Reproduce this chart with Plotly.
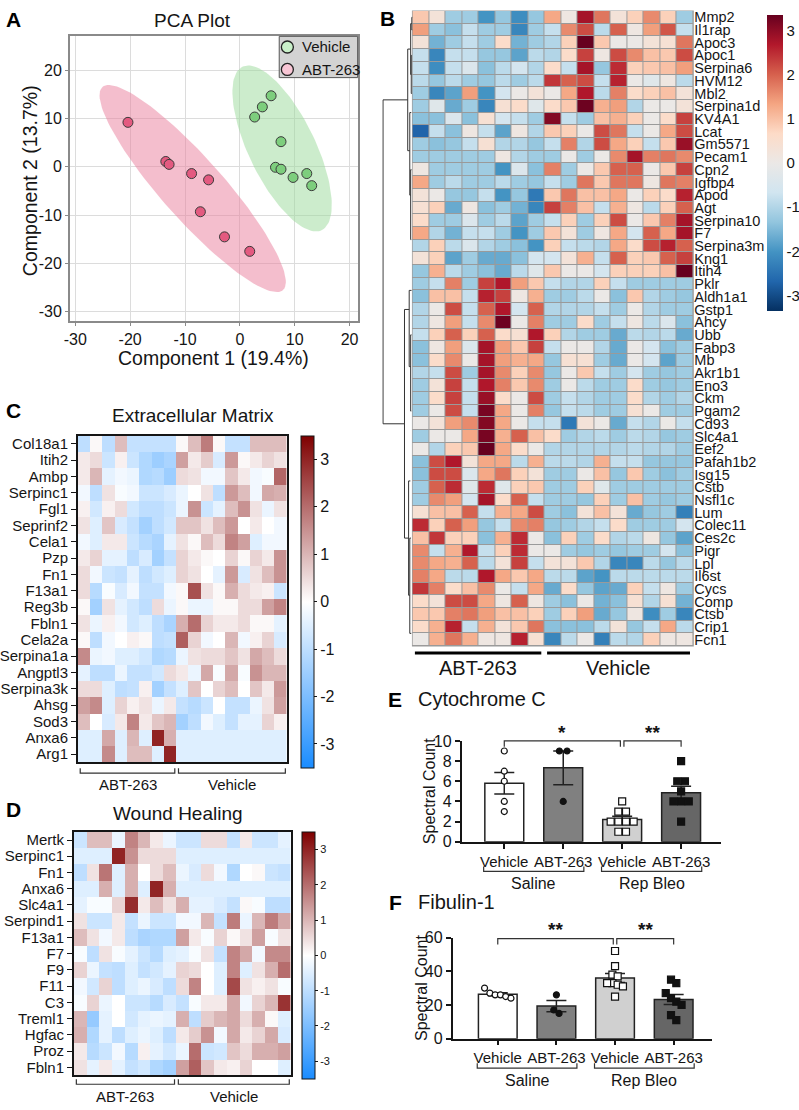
import numpy as np
import plotly.graph_objects as go

W, H = 799, 1110
FONT = "Liberation Sans, Arial, sans-serif"
INK = "#151515"

# ---------------- A: PCA scores ----------------
pca_groups = ["Vehicle", "ABT-263"]
veh_pc1 = [2.7, 4.1, 5.7, 7.5, 6.5, 7.5, 9.7, 12.2, 13.1]
veh_pc2 = [10.3, 12.4, 14.7, 5.2, -0.1, -0.5, -2.2, -1.4, -3.9]
abt_pc1 = [-20.4, -13.5, -12.9, -8.8, -5.7, -7.2, -2.8, 1.8]
abt_pc2 = [9.2, 1.1, 0.5, -1.4, -2.7, -9.3, -14.5, -17.5]
# confidence ellipses: centre x, centre y, half-major, half-minor, angle (deg)
veh_ellipse = [7.7, 3.8, 18.4, 6.2, -67.6]
abt_ellipse = [-8.6, -4.5, 26.7, 5.9, -52.3]
pca_ticks = [-30, -20, -10, 0, 10, 20]

# ---------------- B: clustered heatmap (z-scores) ----------------
b_genes = ["Mmp2", "Il1rap", "Apoc3", "Apoc1", "Serpina6", "HVM12", "Mbl2", "Serpina1d",
           "KV4A1", "Lcat", "Gm5571", "Pecam1", "Cpn2", "Igfbp4", "Apod", "Agt", "Serpina10",
           "F7", "Serpina3m", "Kng1", "Itih4", "Pklr", "Aldh1a1", "Gstp1", "Ahcy", "Ubb",
           "Fabp3", "Mb", "Akr1b1", "Eno3", "Ckm", "Pgam2", "Cd93", "Slc4a1", "Eef2",
           "Pafah1b2", "Isg15", "Cstb", "Nsfl1c", "Lum", "Colec11", "Ces2c", "Pigr", "Lpl",
           "Il6st", "Cycs", "Comp", "Ctsb", "Crip1", "Fcn1"]
b_values = [
    [0.9, 0.3, -1.2, -1.2, -2.0, -1.3, -2.1, -1.3, 1.3, 0.1, 2.8, 1.8, 0.3, 0.8, 1.6, 0.8, -1.2],
    [1.4, -1.2, -1.4, -0.8, -1.2, -1.2, -2.2, -1.2, -0.8, 1.6, 2.2, -0.9, 2.0, 0.1, 1.4, 2.1, -0.8],
    [0.3, -1.6, -1.2, -0.8, -1.2, 0.6, -1.6, -1.2, -1.0, 0.8, 3.4, 0.9, 0.0, 0.0, 0.3, 0.4, 1.8],
    [-0.8, -2.2, -0.8, -0.8, -1.3, -1.3, -1.8, -0.9, -1.0, 0.6, 2.3, 0.1, 2.2, 1.6, 1.0, 0.9, 2.2],
    [-0.8, -2.1, -0.8, -0.4, -1.4, -0.9, -0.6, -1.0, 0.6, -0.8, 2.8, -1.3, 2.5, 0.8, 0.9, 1.0, 1.4],
    [-0.9, -1.3, -0.9, -1.2, -1.3, -0.9, -1.2, -0.9, 2.4, 2.0, 2.2, -0.8, 2.6, 0.0, -0.3, 0.1, -0.9],
    [-1.2, -2.2, -1.8, 1.4, -2.0, -0.6, 0.0, 0.3, 0.0, 1.3, 2.7, -0.9, 1.7, 0.6, 0.8, 1.0, 0.3],
    [-1.2, -0.3, -1.7, -1.2, -2.2, 0.4, 0.6, -0.3, 0.6, 0.9, 3.3, 1.2, 1.4, -1.0, 0.0, 0.0, 0.3],
    [-1.4, -1.4, -0.4, -1.4, 0.4, -0.6, -0.8, -1.2, 3.1, -0.8, -1.2, 1.0, 1.2, 0.8, 0.0, 0.6, 2.3],
    [-2.7, -0.8, -1.4, 0.1, -0.8, -1.8, 0.1, -1.0, 0.9, 0.8, 0.0, 2.2, 1.8, -0.8, 0.0, 1.3, 2.2],
    [-1.2, -1.4, -1.3, -0.8, 0.4, -1.0, -1.0, -1.3, -0.8, 1.7, -1.0, 2.2, 1.3, 0.8, -0.8, 0.9, 2.9],
    [-1.2, -1.2, -1.2, -1.2, -1.2, 0.1, -1.0, -1.2, -1.2, 0.0, -1.2, 0.0, 1.6, 2.8, 1.7, 1.8, 1.6],
    [0.1, -1.2, -1.2, -1.2, -1.2, -2.0, -0.4, -1.4, 1.7, -1.2, 0.0, 0.9, 2.0, 2.0, 0.0, 0.9, 2.3],
    [1.3, -1.2, -0.9, -1.2, -1.2, -0.9, -1.2, -1.3, -0.8, -1.2, 1.8, 0.9, 1.8, 1.8, 0.1, 1.8, 1.7],
    [0.3, 0.0, -1.3, -1.3, -0.8, -2.0, -1.3, -2.4, 0.9, 1.8, 1.0, 1.0, 1.3, 0.0, 0.8, 0.6, 2.6],
    [0.4, 0.8, -1.7, 0.1, -1.4, -1.2, -1.6, -2.2, 2.3, 1.7, 1.0, -0.8, 1.2, 0.1, -0.9, 0.8, 2.0],
    [0.6, -1.2, -1.2, -0.4, -1.2, -0.9, -1.8, -1.2, -0.8, 0.8, -1.2, 0.8, 2.2, 0.0, 0.9, 1.7, 2.8],
    [1.3, -1.0, -1.6, -0.8, -0.8, -1.2, -2.0, -1.2, 0.9, 0.3, -1.2, 0.1, 1.3, -0.6, 2.0, 1.3, 2.8],
    [-1.0, 0.8, -0.9, -0.4, -1.0, -1.2, -1.4, -2.0, 0.8, -0.8, -0.9, -1.0, 1.3, 0.6, 2.2, 2.6, 2.0],
    [0.3, 0.8, -1.8, -1.2, -1.7, -1.7, -1.4, -0.6, -0.6, 0.3, 1.2, -0.8, 2.0, 0.8, 0.9, 2.0, 2.3],
    [-1.3, 1.2, -0.9, -1.2, -1.4, -1.7, -0.9, -0.3, 0.9, 0.0, 0.0, -0.6, 0.8, 0.8, 0.8, 1.0, 3.4],
    [-1.2, -0.8, 1.7, -1.2, 2.3, 2.7, 1.4, 0.9, -0.8, -1.0, -1.0, 0.8, -0.8, -1.2, -1.2, -1.2, -1.2],
    [-1.4, 1.0, 1.0, -0.8, 2.6, 2.3, 0.1, 1.2, -1.2, -1.2, -0.9, 0.0, -1.4, 0.9, -1.0, -1.2, -1.3],
    [-1.0, 0.0, 2.2, -0.8, 2.0, 2.7, -0.6, 2.0, -1.0, -1.0, -1.0, -0.8, -1.2, 0.0, -1.0, -1.2, -1.2],
    [-1.0, 0.1, 1.4, -0.8, 1.6, 3.3, 0.0, 1.7, -1.2, -1.2, 0.6, -1.2, -0.8, 0.1, -0.9, -0.4, -1.4],
    [-0.8, 0.8, 2.0, 0.8, 2.0, 0.6, 0.4, 2.7, 0.8, -1.0, -1.2, -1.2, -1.7, -0.9, -1.0, -0.9, -1.7],
    [-1.4, 0.1, 1.4, -0.4, 2.8, 1.4, 0.9, 2.3, -0.8, 0.0, 0.0, -1.0, -1.7, 0.0, -0.6, -1.4, -1.2],
    [-1.4, 0.6, 1.6, 0.0, 2.8, 1.4, 1.2, 1.3, -1.3, 0.4, 0.4, -1.2, -1.7, 0.0, -0.6, -1.8, -1.2],
    [-1.0, -0.8, 2.2, -1.2, 2.8, 1.6, 0.8, 1.6, -1.3, 0.0, 0.9, -0.8, -1.2, -0.6, -1.2, -1.3, -1.2],
    [-1.2, 0.3, 2.3, -0.8, 2.7, 1.7, 0.9, 1.6, -1.2, 0.0, -0.9, -1.2, -1.2, 0.6, -1.2, -1.3, -1.2],
    [-1.2, 0.6, 2.3, -0.8, 2.9, 0.6, 0.0, 2.2, -1.2, -0.8, -1.0, -1.2, -1.2, 0.6, -1.0, -1.2, -1.0],
    [-1.2, 0.0, 2.2, -0.8, 3.2, 1.3, 0.0, 1.7, -1.3, -0.8, -0.9, -1.2, -1.2, 0.4, 0.0, -1.2, -1.2],
    [0.0, 0.3, 1.4, 1.6, 3.1, 1.3, 0.0, -0.8, -0.8, -2.4, 0.3, 0.0, -1.7, -0.8, -1.0, 0.0, -0.8],
    [-1.2, 0.0, 0.0, 1.3, 3.2, 1.2, 2.0, 1.0, 0.6, -1.2, -1.0, -0.9, -1.2, -0.9, -1.0, -1.3, -1.2],
    [0.0, -1.0, 0.8, 0.9, 3.4, 1.3, 0.6, 0.0, -1.0, -1.0, -1.0, -1.0, -1.0, -0.9, -1.0, -1.0, -1.2],
    [-1.4, 2.2, 2.7, 0.3, 1.3, 1.3, -0.9, 1.2, -0.9, -0.9, -1.0, 1.2, -0.8, -0.8, -1.3, -1.3, -1.3],
    [-1.4, 2.2, 2.2, -0.4, 1.3, 1.8, 0.8, 0.3, -1.2, -1.2, 0.0, 1.0, -1.3, 0.9, -1.2, -1.4, -1.2],
    [-1.2, 2.0, 2.5, -0.3, 2.5, -0.3, 0.8, 0.9, -1.2, -1.2, 0.8, -0.3, -1.2, -1.2, -1.2, -1.2, -1.2],
    [-1.2, 1.6, 1.4, -0.6, 2.8, 0.6, 2.0, -0.8, -1.2, -1.2, -1.3, 0.8, -1.2, 1.0, -1.2, -1.3, -1.2],
    [0.4, 1.0, 1.0, 2.0, -0.8, 1.2, 1.3, 2.2, -1.2, -1.4, 0.3, 1.0, 0.3, -1.7, -1.3, -1.2, -2.3],
    [2.5, 0.8, 2.0, 1.4, -1.3, -0.8, 1.6, 1.7, -1.3, -1.2, -1.0, -0.8, 0.6, -1.2, -1.2, -1.2, -0.6],
    [1.0, 2.4, 0.8, 0.8, -1.4, 1.2, 2.5, 0.0, -1.4, 0.8, -1.2, 0.6, -1.0, -0.9, 0.1, -1.3, -1.8],
    [1.6, -0.8, 1.2, 2.7, -0.8, 0.8, 2.5, 0.0, 0.0, -1.2, -1.3, -1.2, -1.3, -1.2, -1.2, -0.6, -1.4],
    [1.6, 1.3, 1.2, 2.0, -0.9, 0.3, 2.3, -0.8, 0.3, 0.3, 0.9, -1.0, -2.2, -2.2, -0.9, -1.3, -0.9],
    [1.7, 1.3, -0.9, -0.9, 2.7, 1.3, 0.9, 1.3, -0.9, -0.9, -1.8, -2.0, -0.9, -0.9, -0.9, -0.9, -0.9],
    [2.4, 1.7, 0.6, 1.0, 1.6, 0.0, -0.8, 1.3, -1.7, 0.6, -1.3, -1.8, -1.7, 0.8, -0.8, 0.1, -1.2],
    [0.6, 0.3, 2.2, 2.2, 1.3, 0.1, 2.0, 0.1, -1.2, -1.4, 0.0, -1.6, -1.4, 0.4, -1.0, 0.4, -1.6],
    [0.9, 0.9, 1.7, 1.8, 1.4, 1.0, 1.0, 0.8, -1.2, 0.8, 1.4, -1.7, -1.3, 0.1, -2.1, -1.2, -2.2],
    [0.6, 1.2, 2.6, -0.8, 1.2, 0.3, 0.9, 1.8, -1.4, -1.4, -1.4, -0.9, 0.3, -1.3, -0.8, 1.3, -0.9],
    [0.0, 1.2, 1.8, 1.2, 0.1, 0.1, 2.6, 0.4, -2.2, -0.9, 0.0, -2.3, -0.9, -1.0, 0.8, 0.1, 0.1],
]
# sample groups (columns), shared by B, C and D
sample_groups = ["ABT-263"] * 8 + ["Vehicle"] * 9
# row dendrogram links: (row_a, row_b, height_a, height_b, merge_height)
dend_links = [
    (6.5, 32.0, 0.16, 0.27, 1.0),
    (2.5, 10.5, 0.06, 0.09, 0.16),
    (0.5, 4.5, 0.02, 0.04, 0.06),
    (0.0, 1.0, 0.0, 0.0, 0.02),
    (3.0, 6.0, 0.02, 0.02, 0.04),
    (7.5, 14.0, 0.04, 0.06, 0.09),
    (12.0, 17.5, 0.03, 0.04, 0.06),
    (23.0, 41.0, 0.11, 0.13, 0.27),
    (21.5, 27.5, 0.03, 0.06, 0.11),
    (25.0, 31.0, 0.03, 0.04, 0.06),
    (36.5, 45.5, 0.07, 0.09, 0.13),
    (41.0, 48.5, 0.05, 0.04, 0.09),
]

# ---------------- C: Extracellular Matrix ----------------
c_genes = ["Col18a1", "Itih2", "Ambp", "Serpinc1", "Fgl1", "Seprinf2", "Cela1", "Pzp", "Fn1",
           "F13a1", "Reg3b", "Fbln1", "Cela2a", "Serpina1a", "Angptl3", "Serpina3k", "Ahsg",
           "Sod3", "Anxa6", "Arg1"]
c_values = [
    [-1.0, 0.1, -1.0, 0.9, -0.9, -0.9, -0.9, -0.9, 0.1, 0.9, 1.8, 0.1, -0.9, -0.9, 0.9, 0.9, 0.9],
    [0.3, 0.5, -0.8, 0.2, -0.8, -1.2, -1.5, -1.3, 1.3, 0.3, 0.7, -0.6, 1.4, 0.1, 0.3, 0.6, 0.4],
    [0.3, 1.0, -0.4, -0.2, -0.3, -1.2, -1.1, -1.5, 0.5, 0.4, -0.2, -0.2, 0.8, 0.3, -0.2, -0.1, 2.1],
    [-0.2, -1.0, 0.4, -0.1, -0.2, -0.8, -0.8, -0.6, -0.3, 0.0, 0.4, -1.0, 1.4, 0.9, -0.2, 1.2, 1.1],
    [0.2, -0.7, 0.2, 0.5, -0.7, -1.0, -1.0, -0.8, -0.3, 1.5, -0.8, -0.4, 0.9, 1.5, 0.4, -0.3, 0.4],
    [0.4, -0.5, 0.8, -0.6, -0.9, -1.4, -1.0, -0.7, 0.8, 0.8, 0.4, 0.9, 1.4, 0.0, 0.3, 0.0, -0.2],
    [-0.2, -0.5, 0.3, 0.3, -0.8, -1.1, -1.3, -0.4, 0.4, 0.1, 0.9, 0.5, 1.7, 1.3, -0.5, -0.2, -0.2],
    [0.3, 0.6, -0.4, -0.4, -1.0, -0.6, -1.4, -0.9, 0.6, 0.3, 0.1, 0.0, 0.6, 0.1, 0.6, 0.3, 1.5],
    [0.5, -0.2, -0.8, -0.9, -0.4, -1.0, -0.7, -0.5, 0.6, 0.4, 0.0, -0.4, 1.4, -0.6, 0.4, 0.9, 1.5],
    [0.5, -1.1, -0.1, -0.6, -0.2, -0.9, -0.9, -0.2, 0.1, 2.4, 0.4, 0.1, 1.1, 0.5, 0.3, 0.2, -0.8],
    [0.1, -1.4, 0.4, -0.4, -0.7, -1.0, 0.5, -0.3, 0.1, -0.3, -0.3, 0.1, 0.1, 0.5, 0.5, 1.3, 1.7],
    [0.4, -0.3, 0.2, -0.2, -0.7, -0.5, -1.0, -1.3, 1.1, 2.0, 0.6, 0.3, 0.3, 0.5, 0.1, 0.1, -0.4],
    [0.1, -1.0, -0.2, 0.0, 0.2, 0.1, -1.0, -0.9, 2.2, 0.6, -0.2, 0.0, 1.0, -0.2, 0.2, 0.6, -0.6],
    [1.6, -0.3, -0.2, -0.5, -0.5, -0.7, -1.2, -1.1, -0.3, 0.4, 0.5, 0.5, 0.8, 0.4, 1.2, 0.9, 0.5],
    [-0.4, -1.0, -1.0, -0.3, -0.9, -0.9, -0.7, 0.5, 0.3, -0.3, 1.2, -0.1, 1.2, -0.1, 1.5, 1.0, 1.0],
    [0.5, 0.5, -0.5, -1.0, -0.9, 0.2, -1.4, -0.9, -0.5, 0.8, 0.0, 0.6, 0.9, 0.0, 0.8, 0.3, 1.4],
    [1.3, 1.6, -0.5, 0.6, 0.2, 0.4, -0.3, 0.3, -0.9, -1.1, -0.8, 0.0, -0.9, -0.9, -0.3, 0.4, 1.3],
    [0.9, 0.0, -0.6, 0.3, 1.7, 0.3, 0.8, 1.0, -1.4, -1.0, -0.2, -0.5, -0.9, -0.4, -0.4, 0.6, 0.2],
    [-0.5, -0.5, 1.2, -0.5, 1.0, -0.5, 3.0, 1.1, -0.5, -0.5, -0.5, -0.5, -0.5, -0.5, -0.5, -0.5, -0.5],
    [-0.5, -0.5, 1.6, -0.5, 0.9, 0.9, -0.5, 3.0, -0.5, -0.5, -0.5, -0.5, -0.5, -0.5, -0.5, -0.5, -0.5],
]

# ---------------- D: Wound Healing ----------------
d_genes = ["Mertk", "Serpinc1", "Fn1", "Anxa6", "Slc4a1", "Serpind1", "F13a1", "F7", "F9",
           "F11", "C3", "Treml1", "Hgfac", "Proz", "Fbln1"]
d_values = [
    [-0.8, 0.9, 0.9, -0.3, 1.7, 1.0, 0.3, -0.3, -0.8, -0.8, 0.5, 0.5, -0.9, 0.3, -0.8, -0.8, -0.4],
    [-0.5, -0.5, -0.5, 3.0, 1.5, 0.5, 0.5, 0.5, -0.5, -0.5, -0.5, -0.5, -0.5, -0.5, -0.5, -0.5, -0.5],
    [-1.0, 0.4, 1.9, -0.5, 1.1, 0.0, 0.5, 0.9, -0.3, -0.6, 0.5, -0.2, -1.2, 0.0, 0.1, -0.8, -0.9],
    [-0.5, -0.5, 1.1, -0.5, 1.1, -0.5, 3.0, 1.1, -0.5, -0.5, -0.5, -0.5, -0.5, -0.5, -0.5, -0.5, -0.5],
    [-0.4, -0.1, -0.1, 0.6, 2.9, 0.3, 0.9, 0.4, 1.1, -0.4, -0.4, -0.6, -0.9, 0.1, -0.1, -1.0, -1.0],
    [0.4, -0.8, -0.8, 0.3, -0.9, -0.3, -0.8, -0.8, -0.2, -0.2, 1.0, -0.9, 1.8, -0.3, 1.0, 1.8, 1.2],
    [0.9, 0.4, -0.2, 0.3, -1.0, -1.3, -1.2, -1.2, 1.3, 0.3, -0.1, 0.6, 0.1, 0.4, 1.3, -0.1, 0.4],
    [-0.1, -1.0, 0.4, -0.1, -0.4, -0.8, -1.1, -0.5, -0.4, -0.1, 0.4, -0.9, 1.7, 1.2, -0.2, 1.6, 1.6],
    [0.6, -0.3, -0.9, -1.0, -0.5, -0.9, -0.7, -0.4, 0.6, 0.5, 0.0, -0.5, 1.7, -0.5, 0.4, 1.1, 2.0],
    [-0.2, -0.7, 0.6, -1.0, -0.5, -0.3, -0.6, -1.0, 0.5, 1.7, 0.0, -0.5, 2.5, 0.4, 0.2, 0.4, -0.1],
    [-0.1, 0.6, -0.3, 0.0, -0.8, -0.8, -1.1, -0.6, -0.9, -0.1, 0.3, 0.3, 1.2, -0.2, 0.6, 1.0, 2.8],
    [1.0, -1.6, -0.4, 0.0, -0.7, -0.4, -0.3, -0.4, 1.1, -1.0, 0.7, 1.0, 1.2, 0.5, 1.1, 0.1, -0.5],
    [1.1, -1.2, -0.4, -1.0, -0.5, -0.3, -0.5, -1.0, 0.3, 0.7, 1.5, -0.2, 1.2, 0.3, 0.6, 1.2, -0.6],
    [0.3, -1.1, -0.8, -0.2, -1.1, 0.2, -0.4, -0.7, -0.3, 2.0, -0.8, -0.7, 0.8, 0.5, 1.1, 1.1, 1.3],
    [0.4, -0.4, 0.3, -0.4, -0.9, -0.7, -1.2, -1.4, 1.3, 2.2, 0.8, 0.3, 0.2, 0.6, 0.0, 0.0, -0.5],
]

# ---------------- E / F: spectral counts ----------------
bar_labels = ["Vehicle", "ABT-263", "Vehicle", "ABT-263"]
bar_cohorts = ["Saline", "Saline", "Rep Bleo", "Rep Bleo"]
bar_colors = ["#ffffff", "#808080", "#d0d0d0", "#666666"]
cyt_points = [[9, 7, 6, 4, 3], [9, 9, 4], [4, 3, 3, 2, 2, 2, 2, 1, 1], [8, 6, 6, 5, 4, 4, 4, 2]]
fib_points = [[30, 27, 26, 26, 25, 24], [26, 17, 15], [52, 43, 38, 37, 33, 33, 32, 31, 25],
              [35, 33, 27, 24, 22, 20, 14, 11]]
cyt_sig = [(0, 2, "*"), (2, 3, "**")]
fib_sig = [(0, 2, "**"), (2, 3, "**")]
cyt_ticks = [0, 2, 4, 6, 8, 10]
fib_ticks = [0, 20, 40, 60]

# ---------------- layout geometry (pixels) ----------------
box = {  # left, right, top, bottom
    "pca": (64.3, 355.0, 28.3, 318.3),
    "hb": (409.5, 692.5, 3.0, 648.0),
    "dend": (379.0, 409.5, 3.0, 648.0),
    "hc": (72.3, 282.7, 434.3, 766.0),
    "hd": (68.3, 286.7, 836.7, 1084.0),
    "e": (459.0, 720.0, 744.3, 846.8),
    "f": (450.0, 711.7, 944.0, 1046.7),
}
ranges = {
    "pca": ([-31.0, 21.6], [-32.0, 27.1]),
    "hb": ([-0.5, 16.5], [len(b_genes) - 0.5, -0.5]),
    "dend": ([1.03, 0.0], [len(b_genes) - 0.5, -0.5]),
    "hc": ([-0.5, 16.5], [len(c_genes) - 0.5, -0.5]),
    "hd": ([-0.5, 16.5], [len(d_genes) - 0.5, -0.5]),
    "e": ([-0.725, 3.67], [0, 10]),
    "f": ([-0.77, 3.66], [0, 60]),
}
axis_ids = {"pca": 1, "hb": 2, "dend": 3, "hc": 4, "hd": 5, "e": 6, "f": 7}


def px(x):
    return x / W


def py(y):
    return 1 - y / H


def ref(k, xy):
    i = axis_ids[k]
    return xy + ("" if i == 1 else str(i))


def mx(k, v):
    x0, x1, _, _ = box[k]
    r = ranges[k][0]
    return x0 + (v - r[0]) / (r[1] - r[0]) * (x1 - x0)


def my(k, v):
    _, _, y0, y1 = box[k]
    r = ranges[k][1]
    return y1 - (v - r[0]) / (r[1] - r[0]) * (y1 - y0)


def dash(v):
    return str(v).replace("\u2212", "-")


annotations = []
shapes = []


def text(x, y, s, size, anchor="center", angle=0, bold=False, color=INK):
    annotations.append(dict(
        x=px(x), y=py(y), xref="paper", yref="paper", text=f"<b>{s}</b>" if bold else s,
        showarrow=False, xanchor=anchor, yanchor="middle", textangle=angle,
        font=dict(size=size, family=FONT, color=color)))


def path(points, color=INK, width=1.5):
    d = "M " + " L ".join(f"{px(a):.5f},{py(b):.5f}" for a, b in points)
    shapes.append(dict(type="path", path=d, xref="paper", yref="paper",
                       line=dict(color=color, width=width)))


def ellipse(cx, cy, a, b, ang, n=120):
    t = np.linspace(0, 2 * np.pi, n)
    th = np.deg2rad(ang)
    ex = cx + a * np.cos(t) * np.cos(th) - b * np.sin(t) * np.sin(th)
    ey = cy + a * np.cos(t) * np.sin(th) + b * np.sin(t) * np.cos(th)
    return ex, ey


def swarm(vals, thresh, step):
    vals = list(vals)
    order = list(np.argsort(vals)[::-1])
    offs = np.zeros(len(vals))
    clusters, cur = [], [order[0]]
    for i in order[1:]:
        if vals[cur[-1]] - vals[i] < thresh:
            cur.append(i)
        else:
            clusters.append(cur)
            cur = [i]
    clusters.append(cur)
    for c in clusters:
        for j, i in enumerate(c):
            offs[i] = (j - (len(c) - 1) / 2) * step
    return offs


fig = go.Figure()

# ---------- A ----------
pca_sets = [(veh_pc1, veh_pc2, veh_ellipse, "rgba(153,217,153,0.5)", "#7dce7d", "#c9f0c9"),
            (abt_pc1, abt_pc2, abt_ellipse, "rgba(233,125,155,0.5)", "#e35a80", "#f8c6d5")]
for x, y, el, fill, _, _ in pca_sets:
    ex, ey = ellipse(*el)
    fig.add_trace(go.Scatter(x=ex, y=ey, mode="lines", fill="toself", fillcolor=fill,
                             line=dict(width=0), hoverinfo="skip", xaxis="x", yaxis="y"))
for x, y, _, _, col, _ in pca_sets:
    fig.add_trace(go.Scatter(x=x, y=y, mode="markers", xaxis="x", yaxis="y",
                             marker=dict(size=10, color=col, line=dict(color="#3a3a3a", width=1))))

# legend box
lx0, lx1, ly0, ly1 = 275.3, 354.3, 28.8, 70.7
shapes.append(dict(type="rect", xref="paper", yref="paper", x0=px(lx0), x1=px(lx1),
                   y0=py(ly1), y1=py(ly0), fillcolor="#d3d3d3", line=dict(color="#555", width=1)))
for i, (name, s) in enumerate(zip(pca_groups, pca_sets)):
    yy = 39.6 + i * 22.8
    shapes.append(dict(type="circle", xref="paper", yref="paper", xsizemode="pixel",
                       ysizemode="pixel", xanchor=px(283.5), yanchor=py(yy), x0=-6, x1=6,
                       y0=-6, y1=6, fillcolor=s[5], line=dict(color="#222", width=1.3)))
    text(296, yy, name, 15, anchor="left")

text(188, 13, "PCA Plot", 19)
text(209, 355, "Component 1 (19.4%)", 19.5)
text(25, 175, "Component 2 (13.7%)", 19.5, angle=-90)

# ---------- B ----------
rdbu = ["#053061", "#2166ac", "#4393c3", "#92c5de", "#d1e5f0", "#ebe8e6",
        "#fddbc7", "#f4a582", "#d6604d", "#b2182b", "#67001f"]
b_scale = [[i / 10, c] for i, c in enumerate(rdbu)]
x0, x1, y0, y1 = box["hb"]
shapes.append(dict(type="rect", xref="paper", yref="paper", x0=px(x0 - 0.5), x1=px(x1 + 0.5),
                   y0=py(y1 + 0.5), y1=py(y0 - 0.5), fillcolor="#9a9a9a", line=dict(width=0),
                   layer="below"))
fig.add_trace(go.Heatmap(
    z=b_values, x=list(range(17)), y=list(range(len(b_genes))), colorscale=b_scale,
    zmin=-3.35, zmax=3.35, xgap=1, ygap=1, xaxis="x2", yaxis="y2",
    colorbar=dict(x=px(767), xanchor="left", y=py(7), yanchor="top", len=296,
                  lenmode="pixels", thickness=16, thicknessmode="pixels", xpad=0, ypad=0,
                  outlinewidth=0, ticks="", tickvals=[-3, -2, -1, 0, 1, 2, 3],
                  ticktext=[dash(v) for v in [-3, -2, -1, 0, 1, 2, 3]],
                  tickfont=dict(size=15, family=FONT, color=INK))))

dx, dy = [], []
for ya, yb, ha, hb, h in dend_links:
    dx += [ha, h, h, hb, None]
    dy += [ya, ya, yb, yb, None]
fig.add_trace(go.Scatter(x=dx, y=dy, mode="lines", line=dict(color="#333", width=1),
                         xaxis="x3", yaxis="y3", hoverinfo="skip"))


def group_spans(groups):
    spans = []
    for g in dict.fromkeys(groups):
        idx = [i for i, v in enumerate(groups) if v == g]
        spans.append((g, min(idx), max(idx)))
    return spans


for g, a, b in group_spans(sample_groups):
    xa, xb = mx("hb", a - 0.35), mx("hb", b + 0.3)
    path([(xa, 655), (xb, 655)], color="#000", width=3)
    text((xa + xb) / 2, 670, g, 20)

# ---------- C and D ----------
cd_scale = [[0, "#1a8cff"], [0.5, "#ffffff"], [1, "#7f0000"]]
for k, vals, genes, cb_x, cb_font, title, tpos, by in [
        ("hc", c_values, c_genes, 297, 16, "Extracellular Matrix", (188, 414), 777),
        ("hd", d_values, d_genes, 298.3, 11, "Wound Healing", (173, 818), 1093)]:
    x0, x1, y0, y1 = box[k]
    fig.add_trace(go.Heatmap(
        z=vals, x=list(range(17)), y=list(range(len(genes))), colorscale=cd_scale,
        zmin=-3.5, zmax=3.5, xaxis=ref(k, "x"), yaxis=ref(k, "y"),
        colorbar=dict(x=px(cb_x), xanchor="left", y=py(y0), yanchor="top", len=y1 - y0,
                      lenmode="pixels", thickness=13, thicknessmode="pixels", xpad=0, ypad=0,
                      outlinewidth=1, outlinecolor=INK, ticks="outside", ticklen=3,
                      tickcolor=INK, tickvals=[-3, -2, -1, 0, 1, 2, 3],
                      ticktext=[dash(v) for v in [-3, -2, -1, 0, 1, 2, 3]],
                      tickfont=dict(size=cb_font, family=FONT, color=INK))))
    text(tpos[0], tpos[1], title, 19)
    for g, a, b in group_spans(sample_groups):
        xa, xb = mx(k, a - 0.3), mx(k, b + 0.4)
        path([(xa, by - 5), (xa, by), (xb, by), (xb, by - 5)], color="#333", width=1.2)
        text((xa + xb) / 2, by + 12, g, 15)

# ---------- E and F ----------
for k, pts, sig, sig_y, ticks, title, ty, thresh, step in [
        ("e", cyt_points, cyt_sig, 10.0, cyt_ticks, "Cytochrome C", 702, 0.7, 0.13),
        ("f", fib_points, fib_sig, 59.4, fib_ticks, "Fibulin-1", 908, 3.5, 0.09)]:
    means = [float(np.mean(p)) for p in pts]
    sems = [float(np.std(p, ddof=1) / np.sqrt(len(p))) for p in pts]
    fig.add_trace(go.Bar(
        x=list(range(len(pts))), y=means, width=0.66, xaxis=ref(k, "x"), yaxis=ref(k, "y"),
        marker=dict(color=bar_colors, line=dict(color="#222", width=1.5)),
        error_y=dict(type="data", array=sems, color="#222", thickness=1.5, width=10)))
    symbols = ["circle", "circle", "square", "square"]
    fills = ["#ffffff", "#111111", "#ffffff", "#111111"]
    for i, p in enumerate(pts):
        offs = swarm(p, thresh, step)
        fig.add_trace(go.Scatter(
            x=[i + o for o in offs], y=p, mode="markers", xaxis=ref(k, "x"), yaxis=ref(k, "y"),
            marker=dict(symbol=symbols[i], size=6 if i < 2 else 7, color=fills[i],
                        line=dict(color="#111", width=1.2)), cliponaxis=False))
    text(413, ty, title, 20, anchor="left")
    x0, x1, y0, y1 = box[k]
    text(x0 - 32, (y0 + y1) / 2, "Spectral Count", 16, angle=-90)
    # significance brackets
    for a, b, star in sig:
        yb = my(k, sig_y)
        xa, xb = mx(k, a + (0.03 if a == 2 else 0)), mx(k, b - (0.03 if b == 2 else 0))
        path([(xa, yb + 6), (xa, yb), (xb, yb), (xb, yb + 6)], color="#333", width=1.2)
        text((xa + xb) / 2, yb - 9, star, 19, bold=True)
    # cohort brackets
    for g, a, b in group_spans(bar_cohorts):
        xa, xb = mx(k, a - 0.35), mx(k, b + 0.35)
        yb = y1 + 30
        path([(xa, yb - 5), (xa, yb), (xb, yb), (xb, yb - 5)], color="#333", width=1.2)
        text((xa + xb) / 2, yb + 12, g, 16)

# panel letters
for s, x, y in [("A", 8, 12), ("B", 384, 11), ("C", 8, 409), ("D", 8, 814),
                ("E", 392, 702), ("F", 392, 908)]:
    text(x, y, s, 21, bold=True, color="#000")

# ---------- axes ----------
layout_axes = {}
for k in box:
    x0, x1, y0, y1 = box[k]
    xr, yr = ranges[k]
    xa = dict(domain=[px(x0), px(x1)], range=xr, anchor=ref(k, "y"), showgrid=False,
              zeroline=False, showticklabels=False, ticks="", fixedrange=True)
    ya = dict(domain=[py(y1), py(y0)], range=yr, anchor=ref(k, "x"), showgrid=False,
              zeroline=False, showticklabels=False, ticks="", fixedrange=True)
    if k == "pca":
        grid = dict(showgrid=True, gridcolor="#dcdcdc", gridwidth=1, showline=True,
                    mirror=True, linecolor="#8a8a8a", linewidth=1.5, showticklabels=True,
                    ticks="outside", ticklen=3, tickcolor="#8a8a8a",
                    tickvals=pca_ticks, ticktext=[dash(v) for v in pca_ticks],
                    tickfont=dict(size=16, family=FONT, color=INK))
        xa.update(grid)
        ya.update(grid)
    elif k == "hb":
        ya.update(side="right", showticklabels=True, tickvals=list(range(len(b_genes))),
                  ticktext=b_genes, tickfont=dict(size=14.5, family=FONT, color=INK))
    elif k == "dend":
        xa.update(visible=False)
        ya.update(visible=False)
    elif k in ("hc", "hd"):
        genes = c_genes if k == "hc" else d_genes
        frame = dict(showline=True, mirror=True, linecolor=INK, linewidth=1.5)
        xa.update(frame)
        ya.update(frame, showticklabels=True, ticks="outside", ticklen=5, tickcolor=INK,
                  tickwidth=1.2, tickvals=list(range(len(genes))), ticktext=genes,
                  tickfont=dict(size=15, family=FONT, color=INK))
    else:
        yt = cyt_ticks if k == "e" else fib_ticks
        line = dict(showline=True, linecolor=INK, linewidth=1.5, ticks="outside", ticklen=5,
                    tickwidth=1.5, tickcolor=INK, showticklabels=True,
                    tickfont=dict(size=16, family=FONT, color=INK))
        xa.update(line, tickvals=list(range(4)), ticktext=bar_labels, tickangle=0,
                  tickfont=dict(size=15, family=FONT, color=INK))
        ya.update(line, tickvals=yt, ticktext=[str(v) for v in yt])
    layout_axes[("xaxis" if axis_ids[k] == 1 else f"xaxis{axis_ids[k]}")] = xa
    layout_axes[("yaxis" if axis_ids[k] == 1 else f"yaxis{axis_ids[k]}")] = ya

fig.update_layout(
    width=W, height=H, autosize=False, margin=dict(l=0, r=0, t=0, b=0),
    paper_bgcolor="white", plot_bgcolor="white", showlegend=False,
    font=dict(family=FONT, color=INK), annotations=annotations, shapes=shapes,
    **layout_axes,
)

# the page's default body margin would shift the whole figure by 8px
fig.write_html("out.html", config={"displayModeBar": False},
               post_script="document.body.style.margin='0';document.body.style.overflow='hidden';")
